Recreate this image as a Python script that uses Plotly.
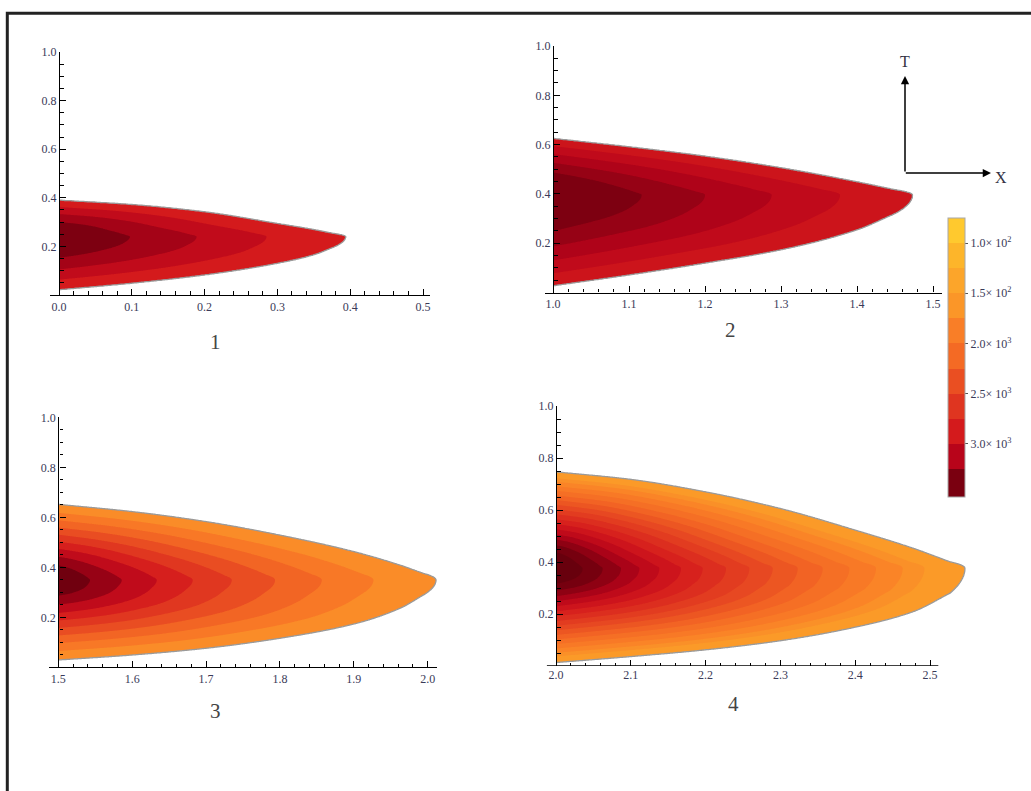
import numpy as np
import plotly.graph_objects as go

W, H = 1031, 791

# ------------------------------------------------------------------
# Data
# ------------------------------------------------------------------
# Panel 1
p1_x0 = 0.0
p1_tip = (0.394, 0.240)
p1_top_x = [0.0, 0.1, 0.2, 0.3, 0.35, 0.377]
p1_top_y = [0.391, 0.373, 0.343, 0.295, 0.270, 0.254]
p1_bot_x = [0.0, 0.1, 0.2, 0.3, 0.35, 0.377]
p1_bot_y = [0.021, 0.048, 0.082, 0.130, 0.165, 0.196]
p1_ring_x = [0.0975, 0.189, 0.285, 0.394]          # contour tips, inner -> boundary
p1_levels = [3300, 3130, 2960, 2790]
p1_peak = 3470

# Panel 2
p2_x0 = 1.0
p2_tip = (1.4733, 0.396)
p2_top_x = [1.0, 1.1, 1.2, 1.3, 1.4, 1.448]
p2_top_y = [0.626, 0.592, 0.554, 0.507, 0.450, 0.419]
p2_bot_x = [1.0, 1.1, 1.2, 1.3, 1.4, 1.448]
p2_bot_y = [0.027, 0.071, 0.119, 0.173, 0.254, 0.317]
p2_ring_x = [1.1167, 1.2, 1.2877, 1.3776, 1.4733]
p2_levels = [3330, 3220, 3110, 3000, 2890]
p2_peak = 3440

# Panel 3
p3_x0 = 1.5
p3_tip = (2.0112, 0.349)
p3_top_x = [1.5, 1.6, 1.7, 1.8, 1.9, 1.9625, 1.9941]
p3_top_y = [0.652, 0.623, 0.583, 0.529, 0.463, 0.409, 0.376]
p3_bot_x = [1.5, 1.6, 1.7, 1.8, 1.9, 1.9625, 1.9941]
p3_bot_y = [0.029, 0.049, 0.076, 0.116, 0.173, 0.236, 0.289]
p3_ring_x = [1.5429, 1.5858, 1.6332, 1.6819, 1.7347, 1.7933, 1.8565, 1.9264, 2.0112]
p3_levels = [3380, 3160, 2940, 2720, 2500, 2280, 2060, 1840, 1620]
p3_peak = 3600

# Panel 4
p4_x0 = 2.0
p4_tip = (2.5468, 0.376)
p4_top_x = [2.0, 2.1, 2.2, 2.3, 2.4, 2.4777, 2.5267]
p4_top_y = [0.747, 0.718, 0.670, 0.606, 0.523, 0.453, 0.401]
p4_bot_x = [2.0, 2.1, 2.2, 2.3, 2.4, 2.4777, 2.5267]
p4_bot_y = [0.013, 0.036, 0.062, 0.097, 0.149, 0.209, 0.280]
p4_ring_x = [2.0357, 2.0624, 2.0869, 2.1114, 2.1381, 2.1671, 2.1961, 2.2273, 2.2585,
             2.2897, 2.3231, 2.3565, 2.3922, 2.4278, 2.4635, 2.4924, 2.5468]
p4_levels = [3500, 3375, 3250, 3125, 3000, 2875, 2750, 2625, 2500, 2375, 2250,
             2125, 2000, 1875, 1750, 1625, 1500]
p4_peak = 3620

# colour scale (value -> colour)
cmap_values = [3650, 3400, 3125, 2875, 2625, 2375, 2125, 1875, 1625, 1375, 1125, 875]
cmap_colors = ['#5E000C', '#7A0010', '#B8041A', '#D41A1C', '#DF3520', '#EA4F22',
               '#F46A24', '#F97E27', '#FB9628', '#FCA52A', '#FDB52A', '#FFC92E']
# colour bar bands (edges, top of bar = 750, bottom = 3530)
cb_edges = [3530, 3250, 3000, 2750, 2500, 2250, 2000, 1750, 1500, 1250, 1000, 750]
cb_colors = ['#7A0010', '#B8041A', '#D41A1C', '#DF3520', '#EA4F22', '#F46A24',
             '#F97E27', '#FB9628', '#FCA52A', '#FDB52A', '#FFC92E']
cb_tickvals = [1000, 1500, 2000, 2500, 3000]
cb_ticktext = ['1.0\u00d7 10<sup>2</sup>', '1.5\u00d7 10<sup>2</sup>', '2.0\u00d7 10<sup>3</sup>',
               '2.5\u00d7 10<sup>3</sup>', '3.0\u00d7 10<sup>3</sup>']

panel_labels = ['1', '2', '3', '4']

# ------------------------------------------------------------------
# helpers
# ------------------------------------------------------------------
def hex2rgb(h):
    h = h.lstrip('#')
    return np.array([int(h[i:i + 2], 16) for i in (0, 2, 4)], dtype=float)


_cv = np.array(cmap_values[::-1], dtype=float)
_cc = np.array([hex2rgb(c) for c in cmap_colors[::-1]])


def value_color(v):
    rgb = [np.interp(v, _cv, _cc[:, k]) for k in range(3)]
    return 'rgb(%d,%d,%d)' % tuple(int(round(c)) for c in rgb)


def pchip(xk, yk, x):
    """Monotone cubic (PCHIP) interpolation of the read boundary points."""
    xk = np.asarray(xk, float)
    yk = np.asarray(yk, float)
    hk = np.diff(xk)
    dk = np.diff(yk) / hk
    n = len(xk)
    m = np.zeros(n)
    m[0], m[-1] = dk[0], dk[-1]
    for k in range(1, n - 1):
        if dk[k - 1] * dk[k] <= 0:
            m[k] = 0.0
        else:
            w1 = 2 * hk[k] + hk[k - 1]
            w2 = hk[k] + 2 * hk[k - 1]
            m[k] = (w1 + w2) / (w1 / dk[k - 1] + w2 / dk[k])
    x = np.clip(x, xk[0], xk[-1])
    idx = np.clip(np.searchsorted(xk, x) - 1, 0, n - 2)
    hh = hk[idx]
    tt = (x - xk[idx]) / hh
    h00 = 2 * tt ** 3 - 3 * tt ** 2 + 1
    h10 = tt ** 3 - 2 * tt ** 2 + tt
    h01 = -2 * tt ** 3 + 3 * tt ** 2
    h11 = tt ** 3 - tt ** 2
    return h00 * yk[idx] + h10 * hh * m[idx] + h01 * yk[idx + 1] + h11 * hh * m[idx + 1]


def half_width(tn, wv, t):
    """Half-width of the region: smooth through the read points, rounded nose at the tip."""
    t_last, w_last = tn[-1], wv[-1]
    body = pchip(tn, wv, t)
    nose = w_last * np.sqrt(np.clip((1 - t) / (1 - t_last), 0, None))
    return np.where(t <= t_last, body, nose)


ASPECT = 0.66  # how contour widths shrink relative to their length


def build_field(x0, tip, top_x, top_y, bot_x, bot_y, ring_x, levels, peak, x_end):
    xt, yc = tip
    L = xt - x0
    tn_t = list((np.array(top_x) - x0) / L)
    w_t = list(np.array(top_y) - yc)
    tn_b = list((np.array(bot_x) - x0) / L)
    w_b = list(yc - np.array(bot_y))

    xg = np.linspace(x0, x_end, 380)
    yg = np.linspace(0.0, 1.0, 380)
    X, Y = np.meshgrid(xg, yg)
    u = (X - x0) / L
    dy = Y - yc
    ady = np.abs(dy)
    up = dy >= 0

    def h(s):
        t = np.clip(u / s, 0, 1)
        wt = np.maximum(half_width(tn_t, w_t, t), 0)
        wb = np.maximum(half_width(tn_b, w_b, t), 0)
        return s ** ASPECT * np.where(up, wt, wb)

    lo = np.maximum(u, 1e-7)
    hi = np.full_like(u, 6.0)
    for _ in range(42):
        mid = 0.5 * (lo + hi)
        hv = h(mid)
        inside = hv < ady
        lo = np.where(inside, mid, lo)
        hi = np.where(inside, hi, mid)
    s = 0.5 * (lo + hi)

    s_nodes = [0.0] + [(r - x0) / L for r in ring_x]
    z_nodes = [peak] + list(levels)
    edge = levels[-1]
    Z = np.where(s <= 1.0, np.interp(np.minimum(s, 1.0), s_nodes, z_nodes),
                 edge - (s - 1.0) * 2000.0)
    return xg, yg, Z


def px_x(p):
    return p / W


def px_y(p):
    return 1 - p / H


panels = [
    dict(x0=p1_x0, tip=p1_tip, tx=p1_top_x, ty=p1_top_y, bx=p1_bot_x, by=p1_bot_y,
         rx=p1_ring_x, lv=p1_levels, pk=p1_peak,
         rng=[-0.01236, 0.5096], dom_px=(50, 430), yax_px=59, ypx=(52, 295),
         majors=[0.0, 0.1, 0.2, 0.3, 0.4, 0.5], line_end=None, label_px=(215, 342)),
    dict(x0=p2_x0, tip=p2_tip, tx=p2_top_x, ty=p2_top_y, bx=p2_bot_x, by=p2_bot_y,
         rx=p2_ring_x, lv=p2_levels, pk=p2_peak,
         rng=[0.98947, 1.5118], dom_px=(545, 942), yax_px=553, ypx=(46, 292.6),
         majors=[1.0, 1.1, 1.2, 1.3, 1.4, 1.5], line_end=None, label_px=(730, 330)),
    dict(x0=p3_x0, tip=p3_tip, tx=p3_top_x, ty=p3_top_y, bx=p3_bot_x, by=p3_bot_y,
         rx=p3_ring_x, lv=p3_levels, pk=p3_peak,
         rng=[1.4878, 2.0125], dom_px=(49.3, 437), yax_px=58.3, ypx=(417.3, 667.3),
         majors=[1.5, 1.6, 1.7, 1.8, 1.9, 2.0], line_end=None, label_px=(215, 711)),
    dict(x0=p4_x0, tip=p4_tip, tx=p4_top_x, ty=p4_top_y, bx=p4_bot_x, by=p4_bot_y,
         rx=p4_ring_x, lv=p4_levels, pk=p4_peak,
         rng=[1.98757, 2.5508], dom_px=(546.7, 968), yax_px=556, ypx=(406, 666),
         majors=[2.0, 2.1, 2.2, 2.3, 2.4, 2.5], line_end=2.5111, label_px=(733, 704)),
]

TICKFONT = dict(family='Liberation Serif', size=12, color='#3a3a58')
y_majors = [0.2, 0.4, 0.6, 0.8, 1.0]
y_minors = [round(0.05 * k, 2) for k in range(1, 20) if k % 4 != 0]

fig = go.Figure()
layout = dict(width=W, height=H, margin=dict(l=0, r=0, t=0, b=0, autoexpand=False),
              paper_bgcolor='white', plot_bgcolor='white', showlegend=False)
shapes = []
annotations = []

for i, p in enumerate(panels, start=1):
    xn = 'x' if i == 1 else 'x%d' % i
    yn = 'y' if i == 1 else 'y%d' % i
    xg, yg, Z = build_field(p['x0'], p['tip'], p['tx'], p['ty'], p['bx'], p['by'],
                            p['rx'], p['lv'], p['pk'], p['rng'][1])
    lv = sorted(p['lv'])
    step = lv[1] - lv[0]
    nc = len(lv)
    cs = [[0.0, '#ffffff']] + [[(k + 1) / nc, value_color(lv[k] + step / 2)] for k in range(nc)]
    fig.add_trace(go.Contour(
        x=xg, y=yg, z=Z, xaxis=xn, yaxis=yn,
        contours=dict(start=lv[0], end=lv[-1], size=step, coloring='fill', showlines=False),
        colorscale=cs, showscale=False, line=dict(width=0), hoverinfo='skip'))
    fig.add_trace(go.Contour(
        x=xg, y=yg, z=Z, xaxis=xn, yaxis=yn,
        contours=dict(start=lv[0], end=lv[0], size=step, coloring='none', showlines=True),
        line=dict(color='#9a9a9a', width=1.3), showscale=False, hoverinfo='skip'))

    line_hi = p['line_end'] if p['line_end'] is not None else p['rng'][1]
    x_minors = [round(p['majors'][0] + 0.02 * k, 2) for k in range(-1, 26)
                if k % 5 != 0 and p['rng'][0] <= p['majors'][0] + 0.02 * k <= line_hi]
    xa = dict(domain=[px_x(p['dom_px'][0]), px_x(p['dom_px'][1])], range=p['rng'],
              anchor=yn, showgrid=False, zeroline=False, automargin=False,
              showline=p['line_end'] is None, linecolor='black', linewidth=1.4,
              ticks='inside', ticklen=6, tickwidth=1.2, tickcolor='black',
              tickmode='array', tickvals=p['majors'],
              ticktext=['%.1f' % v for v in p['majors']], tickfont=TICKFONT,
              minor=dict(tickmode='array', tickvals=x_minors, ticks='inside',
                         ticklen=3.5, tickwidth=1, tickcolor='black', showgrid=False))
    ya = dict(domain=[px_y(p['ypx'][1]), px_y(p['ypx'][0])], range=[0, 1],
              anchor='free', position=px_x(p['yax_px']), showgrid=False, zeroline=False,
              automargin=False,
              showline=True, linecolor='black', linewidth=1.4,
              ticks='inside', ticklen=6, tickwidth=1.2, tickcolor='black',
              tickmode='array', tickvals=y_majors,
              ticktext=['%.1f' % v for v in y_majors], tickfont=TICKFONT,
              minor=dict(tickmode='array', tickvals=y_minors, ticks='inside',
                         ticklen=3.5, tickwidth=1, tickcolor='black', showgrid=False))
    layout['xaxis' if i == 1 else 'xaxis%d' % i] = xa
    layout['yaxis' if i == 1 else 'yaxis%d' % i] = ya
    if p['line_end'] is not None:
        shapes.append(dict(type='line', xref=xn, yref=yn, x0=p['rng'][0], x1=p['line_end'],
                           y0=0, y1=0, line=dict(color='black', width=1.4), layer='above'))
    annotations.append(dict(text=panel_labels[i - 1], x=px_x(p['label_px'][0]),
                            y=px_y(p['label_px'][1]), xref='paper', yref='paper',
                            showarrow=False, xanchor='center', yanchor='middle',
                            font=dict(family='Liberation Serif', size=21, color='#444444')))

# colour bar (values negated so that the scale grows downward)
span = cb_edges[0] - cb_edges[-1]
cb_scale = []
for k, c in enumerate(cb_colors):
    a = (cb_edges[0] - cb_edges[k]) / span
    b = (cb_edges[0] - cb_edges[k + 1]) / span
    cb_scale += [[a, c], [b, c]]
fig.add_trace(go.Scatter(
    x=[-5], y=[-5], mode='markers', xaxis='x', yaxis='y', hoverinfo='skip',
    marker=dict(size=1, color=[-2000], colorscale=cb_scale,
                cmin=-cb_edges[0], cmax=-cb_edges[-1], showscale=True,
                colorbar=dict(x=px_x(948), xanchor='left', y=px_y(218), yanchor='top',
                              thickness=17, thicknessmode='pixels', len=279,
                              lenmode='pixels', xpad=0, ypad=0,
                              outlinecolor='#a8a8a8', outlinewidth=1,
                              tickmode='array', tickvals=[-v for v in cb_tickvals],
                              ticktext=cb_ticktext, ticks='outside', ticklen=3,
                              tickwidth=1, tickcolor='#555555',
                              tickfont=dict(family='Liberation Serif', size=12,
                                            color='#3a3a58')))))

# T / X direction arrows
annotations.append(dict(x=px_x(905), y=px_y(76), ax=0, ay=97,
                        xref='paper', yref='paper', axref='pixel', ayref='pixel',
                        text='', showarrow=True, arrowhead=2, arrowsize=1.1,
                        arrowwidth=1.5, arrowcolor='black'))
annotations.append(dict(x=px_x(991), y=px_y(173), ax=-86.7, ay=0,
                        xref='paper', yref='paper', axref='pixel', ayref='pixel',
                        text='', showarrow=True, arrowhead=2, arrowsize=1.1,
                        arrowwidth=1.5, arrowcolor='black'))
annotations.append(dict(text='T', x=px_x(905), y=px_y(62), xref='paper', yref='paper',
                        xanchor='center', yanchor='middle', showarrow=False,
                        font=dict(family='Liberation Serif', size=16, color='#333344')))
annotations.append(dict(text='X', x=px_x(1001), y=px_y(177), xref='paper', yref='paper',
                        xanchor='center', yanchor='middle', showarrow=False,
                        font=dict(family='Liberation Serif', size=16, color='#333344')))

# page frame
shapes.append(dict(type='rect', xref='paper', yref='paper', x0=px_x(7.3), x1=1.1,
                   y0=-0.1, y1=px_y(13.3), line=dict(color='#222222', width=3),
                   fillcolor='rgba(0,0,0,0)', layer='above'))

layout['shapes'] = shapes
layout['annotations'] = annotations
fig.update_layout(**layout)

fig.write_html("out.html", config={'displayModeBar': False},
               post_script="document.body.style.margin='0';")
